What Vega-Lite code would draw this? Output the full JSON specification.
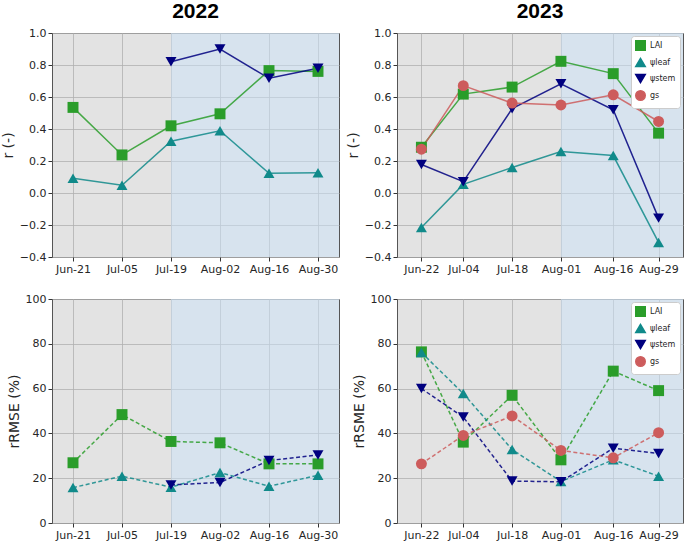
{
  "$schema": "https://vega.github.io/schema/vega-lite/v6.json",
  "padding": {"left": 0, "top": 0, "right": 2, "bottom": 0},
  "datasets": {
    "shade": [
      {"year": 2022, "start": "2022-07-19T00:00:00", "end": "2022-09-05T00:00:00"},
      {"year": 2023, "start": "2023-08-01T00:00:00", "end": "2023-09-05T00:00:00"}
    ],
    "r2022": [
      {"date": "2022-06-21T00:00:00", "series": "LAI", "value": 0.535},
      {"date": "2022-07-05T00:00:00", "series": "LAI", "value": 0.238},
      {"date": "2022-07-19T00:00:00", "series": "LAI", "value": 0.42},
      {"date": "2022-08-02T00:00:00", "series": "LAI", "value": 0.495},
      {"date": "2022-08-16T00:00:00", "series": "LAI", "value": 0.765},
      {"date": "2022-08-30T00:00:00", "series": "LAI", "value": 0.76},
      {"date": "2022-06-21T00:00:00", "series": "ψleaf", "value": 0.092},
      {"date": "2022-07-05T00:00:00", "series": "ψleaf", "value": 0.048},
      {"date": "2022-07-19T00:00:00", "series": "ψleaf", "value": 0.324},
      {"date": "2022-08-02T00:00:00", "series": "ψleaf", "value": 0.389},
      {"date": "2022-08-16T00:00:00", "series": "ψleaf", "value": 0.123},
      {"date": "2022-08-30T00:00:00", "series": "ψleaf", "value": 0.127},
      {"date": "2022-07-19T00:00:00", "series": "ψstem", "value": 0.82},
      {"date": "2022-08-02T00:00:00", "series": "ψstem", "value": 0.9},
      {"date": "2022-08-16T00:00:00", "series": "ψstem", "value": 0.717},
      {"date": "2022-08-30T00:00:00", "series": "ψstem", "value": 0.78}
    ],
    "r2023": [
      {"date": "2023-06-22T00:00:00", "series": "LAI", "value": 0.286},
      {"date": "2023-07-04T00:00:00", "series": "LAI", "value": 0.618},
      {"date": "2023-07-18T00:00:00", "series": "LAI", "value": 0.662},
      {"date": "2023-08-01T00:00:00", "series": "LAI", "value": 0.823},
      {"date": "2023-08-16T00:00:00", "series": "LAI", "value": 0.746},
      {"date": "2023-08-29T00:00:00", "series": "LAI", "value": 0.374},
      {"date": "2023-06-22T00:00:00", "series": "ψleaf", "value": -0.215},
      {"date": "2023-07-04T00:00:00", "series": "ψleaf", "value": 0.054},
      {"date": "2023-07-18T00:00:00", "series": "ψleaf", "value": 0.159},
      {"date": "2023-08-01T00:00:00", "series": "ψleaf", "value": 0.259},
      {"date": "2023-08-16T00:00:00", "series": "ψleaf", "value": 0.234},
      {"date": "2023-08-29T00:00:00", "series": "ψleaf", "value": -0.309},
      {"date": "2023-06-22T00:00:00", "series": "ψstem", "value": 0.178},
      {"date": "2023-07-04T00:00:00", "series": "ψstem", "value": 0.071},
      {"date": "2023-07-18T00:00:00", "series": "ψstem", "value": 0.527},
      {"date": "2023-08-01T00:00:00", "series": "ψstem", "value": 0.683},
      {"date": "2023-08-16T00:00:00", "series": "ψstem", "value": 0.52},
      {"date": "2023-08-29T00:00:00", "series": "ψstem", "value": -0.157},
      {"date": "2023-06-22T00:00:00", "series": "gs", "value": 0.274},
      {"date": "2023-07-04T00:00:00", "series": "gs", "value": 0.671},
      {"date": "2023-07-18T00:00:00", "series": "gs", "value": 0.562},
      {"date": "2023-08-01T00:00:00", "series": "gs", "value": 0.55},
      {"date": "2023-08-16T00:00:00", "series": "gs", "value": 0.614},
      {"date": "2023-08-29T00:00:00", "series": "gs", "value": 0.447}
    ],
    "e2022": [
      {"date": "2022-06-21T00:00:00", "series": "LAI", "value": 26.9},
      {"date": "2022-07-05T00:00:00", "series": "LAI", "value": 48.4},
      {"date": "2022-07-19T00:00:00", "series": "LAI", "value": 36.4},
      {"date": "2022-08-02T00:00:00", "series": "LAI", "value": 35.8},
      {"date": "2022-08-16T00:00:00", "series": "LAI", "value": 26.4},
      {"date": "2022-08-30T00:00:00", "series": "LAI", "value": 26.4},
      {"date": "2022-06-21T00:00:00", "series": "ψleaf", "value": 15.8},
      {"date": "2022-07-05T00:00:00", "series": "ψleaf", "value": 20.9},
      {"date": "2022-07-19T00:00:00", "series": "ψleaf", "value": 16.0},
      {"date": "2022-08-02T00:00:00", "series": "ψleaf", "value": 22.5},
      {"date": "2022-08-16T00:00:00", "series": "ψleaf", "value": 16.4},
      {"date": "2022-08-30T00:00:00", "series": "ψleaf", "value": 21.3},
      {"date": "2022-07-19T00:00:00", "series": "ψstem", "value": 17.0},
      {"date": "2022-08-02T00:00:00", "series": "ψstem", "value": 18.1},
      {"date": "2022-08-16T00:00:00", "series": "ψstem", "value": 27.9},
      {"date": "2022-08-30T00:00:00", "series": "ψstem", "value": 30.4}
    ],
    "e2023": [
      {"date": "2023-06-22T00:00:00", "series": "LAI", "value": 76.4},
      {"date": "2023-07-04T00:00:00", "series": "LAI", "value": 36.1},
      {"date": "2023-07-18T00:00:00", "series": "LAI", "value": 57.0},
      {"date": "2023-08-01T00:00:00", "series": "LAI", "value": 28.2},
      {"date": "2023-08-16T00:00:00", "series": "LAI", "value": 67.8},
      {"date": "2023-08-29T00:00:00", "series": "LAI", "value": 59.1},
      {"date": "2023-06-22T00:00:00", "series": "ψleaf", "value": 76.1},
      {"date": "2023-07-04T00:00:00", "series": "ψleaf", "value": 57.8},
      {"date": "2023-07-18T00:00:00", "series": "ψleaf", "value": 32.8},
      {"date": "2023-08-01T00:00:00", "series": "ψleaf", "value": 18.5},
      {"date": "2023-08-16T00:00:00", "series": "ψleaf", "value": 28.2},
      {"date": "2023-08-29T00:00:00", "series": "ψleaf", "value": 20.9},
      {"date": "2023-06-22T00:00:00", "series": "ψstem", "value": 60.0},
      {"date": "2023-07-04T00:00:00", "series": "ψstem", "value": 47.3},
      {"date": "2023-07-18T00:00:00", "series": "ψstem", "value": 18.7},
      {"date": "2023-08-01T00:00:00", "series": "ψstem", "value": 18.4},
      {"date": "2023-08-16T00:00:00", "series": "ψstem", "value": 33.4},
      {"date": "2023-08-29T00:00:00", "series": "ψstem", "value": 31.0},
      {"date": "2023-06-22T00:00:00", "series": "gs", "value": 26.4},
      {"date": "2023-07-04T00:00:00", "series": "gs", "value": 39.1},
      {"date": "2023-07-18T00:00:00", "series": "gs", "value": 47.8},
      {"date": "2023-08-01T00:00:00", "series": "gs", "value": 32.4},
      {"date": "2023-08-16T00:00:00", "series": "gs", "value": 29.1},
      {"date": "2023-08-29T00:00:00", "series": "gs", "value": 40.3}
    ]
  },
  "columns": 2,
  "spacing": {"row": 42, "column": 58},
  "bounds": "flush",
  "concat": [
    {
      "width": 287, "height": 224,
      "title": "2022",
      "layer": [
        {
          "data": {"name": "shade"},
          "transform": [{"filter": "datum.year == 2022"}],
          "mark": {"type": "rect", "fill": "#cbe3f9", "opacity": 0.5},
          "encoding": {
            "x": {"field": "start", "type": "temporal",
                  "scale": {"domain": [{"year": 2022, "month": 6, "date": 15}, {"year": 2022, "month": 9, "date": 5}]},
                  "axis": {"title": null, "format": "%b-%d", "tickCount": 10,
                           "values": [{"year": 2022, "month": 6, "date": 21}, {"year": 2022, "month": 7, "date": 5}, {"year": 2022, "month": 7, "date": 19}, {"year": 2022, "month": 8, "date": 2}, {"year": 2022, "month": 8, "date": 16}, {"year": 2022, "month": 8, "date": 30}]}},
            "x2": {"field": "end"}
          }
        },
        {
          "data": {"name": "r2022"},
          "mark": {"type": "line", "strokeWidth": 1.5, "opacity": 0.85},
          "encoding": {
            "x": {"field": "date", "type": "temporal"},
            "y": {"field": "value", "type": "quantitative", "scale": {"domain": [-0.4, 1.0]},
                  "axis": {"title": "r (-)", "values": [-0.4, -0.2, 0, 0.2, 0.4, 0.6, 0.8, 1.0], "format": ".1f", "tickCount": 10}},
            "color": {"field": "series", "type": "nominal", "legend": null,
                      "scale": {"domain": ["LAI", "ψleaf", "ψstem", "gs"], "range": ["#2a9d2a", "#108a8a", "#00007f", "#cd5c5c"]}}
          }
        },
        {
          "data": {"name": "r2022"},
          "mark": {"type": "point", "filled": true, "opacity": 1, "size": 120},
          "encoding": {
            "x": {"field": "date", "type": "temporal"},
            "y": {"field": "value", "type": "quantitative"},
            "color": {"field": "series", "type": "nominal", "legend": null},
            "shape": {"field": "series", "type": "nominal", "legend": null,
                      "scale": {"domain": ["LAI", "ψleaf", "ψstem", "gs"], "range": ["square", "triangle-up", "triangle-down", "circle"]}}
          }
        }
      ]
    },
    {
      "width": 286, "height": 224,
      "title": "2023",
      "layer": [
        {
          "data": {"name": "shade"},
          "transform": [{"filter": "datum.year == 2023"}],
          "mark": {"type": "rect", "fill": "#cbe3f9", "opacity": 0.5},
          "encoding": {
            "x": {"field": "start", "type": "temporal",
                  "scale": {"domain": [{"year": 2023, "month": 6, "date": 15}, {"year": 2023, "month": 9, "date": 5}]},
                  "axis": {"title": null, "format": "%b-%d", "tickCount": 10,
                           "values": [{"year": 2023, "month": 6, "date": 22}, {"year": 2023, "month": 7, "date": 4}, {"year": 2023, "month": 7, "date": 18}, {"year": 2023, "month": 8, "date": 1}, {"year": 2023, "month": 8, "date": 16}, {"year": 2023, "month": 8, "date": 29}]}},
            "x2": {"field": "end"}
          }
        },
        {
          "data": {"name": "r2023"},
          "mark": {"type": "line", "strokeWidth": 1.5, "opacity": 0.85},
          "encoding": {
            "x": {"field": "date", "type": "temporal"},
            "y": {"field": "value", "type": "quantitative", "scale": {"domain": [-0.4, 1.0]},
                  "axis": {"title": "r (-)", "values": [-0.4, -0.2, 0, 0.2, 0.4, 0.6, 0.8, 1.0], "format": ".1f", "tickCount": 10}},
            "color": {"field": "series", "type": "nominal", "title": null,
                      "scale": {"domain": ["LAI", "ψleaf", "ψstem", "gs"], "range": ["#2a9d2a", "#108a8a", "#00007f", "#cd5c5c"]}}
          }
        },
        {
          "data": {"name": "r2023"},
          "mark": {"type": "point", "filled": true, "opacity": 1, "size": 120},
          "encoding": {
            "x": {"field": "date", "type": "temporal"},
            "y": {"field": "value", "type": "quantitative"},
            "color": {"field": "series", "type": "nominal", "title": null},
            "shape": {"field": "series", "type": "nominal", "title": null,
                      "scale": {"domain": ["LAI", "ψleaf", "ψstem", "gs"], "range": ["square", "triangle-up", "triangle-down", "circle"]}}
          }
        }
      ]
    },
    {
      "width": 287, "height": 224,
      "layer": [
        {
          "data": {"name": "shade"},
          "transform": [{"filter": "datum.year == 2022"}],
          "mark": {"type": "rect", "fill": "#cbe3f9", "opacity": 0.5},
          "encoding": {
            "x": {"field": "start", "type": "temporal",
                  "scale": {"domain": [{"year": 2022, "month": 6, "date": 15}, {"year": 2022, "month": 9, "date": 5}]},
                  "axis": {"title": null, "format": "%b-%d", "tickCount": 10,
                           "values": [{"year": 2022, "month": 6, "date": 21}, {"year": 2022, "month": 7, "date": 5}, {"year": 2022, "month": 7, "date": 19}, {"year": 2022, "month": 8, "date": 2}, {"year": 2022, "month": 8, "date": 16}, {"year": 2022, "month": 8, "date": 30}]}},
            "x2": {"field": "end"}
          }
        },
        {
          "data": {"name": "e2022"},
          "mark": {"type": "line", "strokeWidth": 1.5, "opacity": 0.85, "strokeDash": [4, 2.5]},
          "encoding": {
            "x": {"field": "date", "type": "temporal"},
            "y": {"field": "value", "type": "quantitative", "scale": {"domain": [0, 100]},
                  "axis": {"title": "rRMSE (%)", "values": [0, 20, 40, 60, 80, 100], "tickCount": 10}},
            "color": {"field": "series", "type": "nominal", "legend": null,
                      "scale": {"domain": ["LAI", "ψleaf", "ψstem", "gs"], "range": ["#2a9d2a", "#108a8a", "#00007f", "#cd5c5c"]}}
          }
        },
        {
          "data": {"name": "e2022"},
          "mark": {"type": "point", "filled": true, "opacity": 1, "size": 120},
          "encoding": {
            "x": {"field": "date", "type": "temporal"},
            "y": {"field": "value", "type": "quantitative"},
            "color": {"field": "series", "type": "nominal", "legend": null},
            "shape": {"field": "series", "type": "nominal", "legend": null,
                      "scale": {"domain": ["LAI", "ψleaf", "ψstem", "gs"], "range": ["square", "triangle-up", "triangle-down", "circle"]}}
          }
        }
      ]
    },
    {
      "width": 286, "height": 224,
      "layer": [
        {
          "data": {"name": "shade"},
          "transform": [{"filter": "datum.year == 2023"}],
          "mark": {"type": "rect", "fill": "#cbe3f9", "opacity": 0.5},
          "encoding": {
            "x": {"field": "start", "type": "temporal",
                  "scale": {"domain": [{"year": 2023, "month": 6, "date": 15}, {"year": 2023, "month": 9, "date": 5}]},
                  "axis": {"title": null, "format": "%b-%d", "tickCount": 10,
                           "values": [{"year": 2023, "month": 6, "date": 22}, {"year": 2023, "month": 7, "date": 4}, {"year": 2023, "month": 7, "date": 18}, {"year": 2023, "month": 8, "date": 1}, {"year": 2023, "month": 8, "date": 16}, {"year": 2023, "month": 8, "date": 29}]}},
            "x2": {"field": "end"}
          }
        },
        {
          "data": {"name": "e2023"},
          "mark": {"type": "line", "strokeWidth": 1.5, "opacity": 0.85, "strokeDash": [4, 2.5]},
          "encoding": {
            "x": {"field": "date", "type": "temporal"},
            "y": {"field": "value", "type": "quantitative", "scale": {"domain": [0, 100]},
                  "axis": {"title": "rRSME (%)", "values": [0, 20, 40, 60, 80, 100], "tickCount": 10}},
            "color": {"field": "series", "type": "nominal", "title": null,
                      "scale": {"domain": ["LAI", "ψleaf", "ψstem", "gs"], "range": ["#2a9d2a", "#108a8a", "#00007f", "#cd5c5c"]}}
          }
        },
        {
          "data": {"name": "e2023"},
          "mark": {"type": "point", "filled": true, "opacity": 1, "size": 120},
          "encoding": {
            "x": {"field": "date", "type": "temporal"},
            "y": {"field": "value", "type": "quantitative"},
            "color": {"field": "series", "type": "nominal", "title": null},
            "shape": {"field": "series", "type": "nominal", "title": null,
                      "scale": {"domain": ["LAI", "ψleaf", "ψstem", "gs"], "range": ["square", "triangle-up", "triangle-down", "circle"]}}
          }
        }
      ]
    }
  ],
  "resolve": {
    "scale": {"x": "independent", "y": "independent", "color": "independent", "shape": "independent"},
    "legend": {"color": "independent", "shape": "independent"}
  },
  "config": {
    "background": "white",
    "view": {"fill": "#e3e3e3", "stroke": "#555555", "strokeWidth": 1},
    "title": {"font": "Liberation Sans", "fontSize": 21, "fontWeight": "bold", "color": "black", "offset": 5, "anchor": "middle"},
    "axis": {
      "labelFont": "DejaVu Sans", "labelFontSize": 11, "labelColor": "#262626", "labelOverlap": false,
      "titleFont": "DejaVu Sans", "titleFontSize": 14, "titleFontWeight": "normal", "titleColor": "#262626",
      "gridColor": "#b0b0b0", "gridOpacity": 0.8, "gridWidth": 1,
      "tickColor": "#333333", "tickSize": 4, "domain": false, "labelPadding": 2, "titlePadding": 4
    },
    "legend": {
      "orient": "top-right", "offset": 3, "fillColor": "white", "strokeColor": "#cccccc",
      "padding": 4, "cornerRadius": 3, "labelFont": "DejaVu Sans", "labelFontSize": 8, "labelColor": "#262626",
      "symbolSize": 90, "rowPadding": 1, "symbolOpacity": 1
    }
  }
}
